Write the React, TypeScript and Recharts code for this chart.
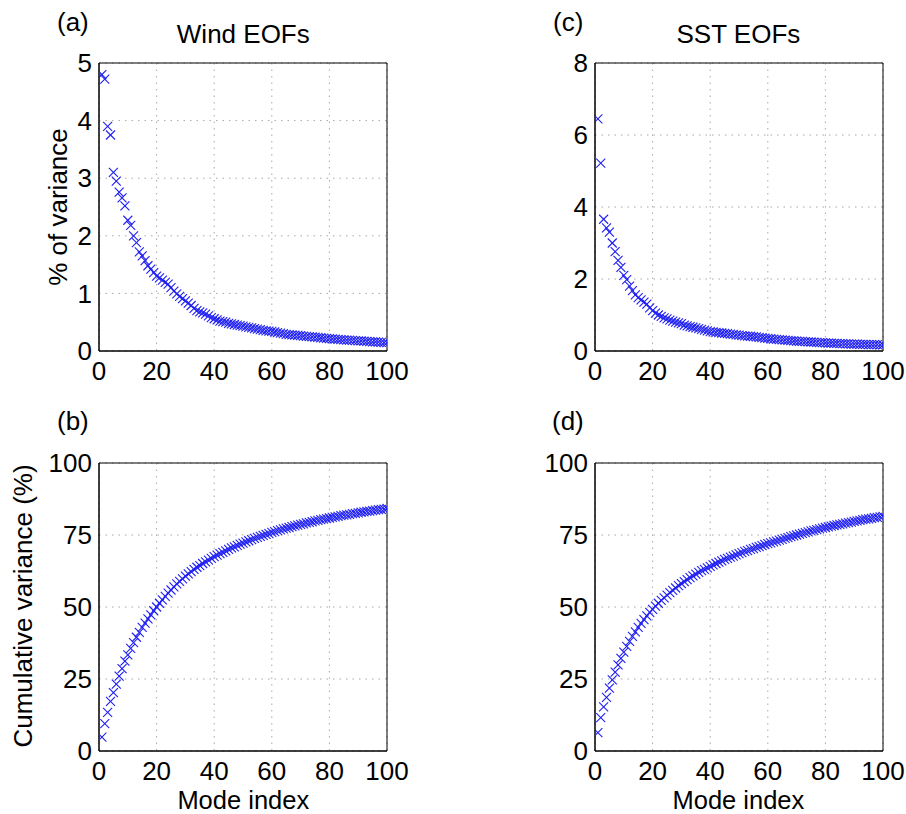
import React from "react";
import { ScatterChart, Scatter, XAxis, YAxis, CartesianGrid, ReferenceArea } from "recharts";

// mode index ticks shared by all panels
const modeTicks = [0, 20, 40, 60, 80, 100];
const windPctTicks = [0, 1, 2, 3, 4, 5];
const sstPctTicks = [0, 2, 4, 6, 8];
const cumTicks = [0, 25, 50, 75, 100];

// (a) wind EOFs, % of variance per mode (modes 1..100)
const windPct = [
  4.8, 4.72, 3.9, 3.75, 3.1, 2.95, 2.76, 2.66, 2.52, 2.27,
  2.18, 2.0, 1.88, 1.72, 1.65, 1.57, 1.48, 1.42, 1.36, 1.3,
  1.27, 1.23, 1.19, 1.16, 1.1, 1.04, 0.99, 0.95, 0.91, 0.87,
  0.83, 0.79, 0.74, 0.7, 0.68, 0.66, 0.64, 0.61, 0.58, 0.56,
  0.54, 0.52, 0.51, 0.5, 0.48, 0.47, 0.46, 0.45, 0.44, 0.43,
  0.42, 0.41, 0.4, 0.39, 0.38, 0.37, 0.36, 0.35, 0.345, 0.34,
  0.33, 0.32, 0.31, 0.3, 0.29, 0.285, 0.28, 0.275, 0.27, 0.265,
  0.26, 0.255, 0.25, 0.245, 0.24, 0.235, 0.23, 0.225, 0.22, 0.215,
  0.21, 0.205, 0.2, 0.197, 0.194, 0.19, 0.187, 0.184, 0.18, 0.177,
  0.174, 0.17, 0.167, 0.164, 0.16, 0.157, 0.154, 0.15, 0.147, 0.144,
];

// (b) wind EOFs, cumulative variance
const windCum = [
  4.8, 9.5, 13.4, 17.2, 20.3, 23.2, 26.0, 28.6, 31.2, 33.4,
  35.6, 37.6, 39.5, 41.2, 42.9, 44.4, 45.9, 47.3, 48.7, 50.0,
  51.3, 52.5, 53.7, 54.8, 55.9, 57.0, 58.0, 58.9, 59.8, 60.7,
  61.5, 62.3, 63.1, 63.8, 64.4, 65.1, 65.7, 66.3, 66.9, 67.5,
  68.0, 68.5, 69.0, 69.5, 70.0, 70.5, 70.9, 71.4, 71.8, 72.2,
  72.6, 73.0, 73.4, 73.8, 74.2, 74.5, 74.9, 75.2, 75.5, 75.9,
  76.2, 76.5, 76.8, 77.1, 77.4, 77.6, 77.9, 78.2, 78.4, 78.7,
  78.9, 79.2, 79.4, 79.6, 79.9, 80.1, 80.3, 80.5, 80.7, 80.9,
  81.1, 81.3, 81.5, 81.7, 81.9, 82.0, 82.2, 82.4, 82.5, 82.7,
  82.9, 83.0, 83.2, 83.3, 83.5, 83.6, 83.8, 83.9, 84.0, 84.2,
];

// (c) SST EOFs, % of variance per mode
const sstPct = [
  6.45, 5.22, 3.66, 3.42, 3.3, 3.0, 2.76, 2.52, 2.32, 2.1,
  1.98, 1.8, 1.68, 1.56, 1.48, 1.42, 1.36, 1.3, 1.2, 1.12,
  1.05, 1.0, 0.96, 0.92, 0.89, 0.86, 0.83, 0.8, 0.78, 0.76,
  0.72, 0.7, 0.68, 0.66, 0.64, 0.62, 0.6, 0.58, 0.56, 0.54,
  0.53, 0.52, 0.51, 0.5, 0.49, 0.48, 0.47, 0.46, 0.45, 0.44,
  0.43, 0.42, 0.415, 0.41, 0.4, 0.39, 0.38, 0.37, 0.36, 0.35,
  0.34, 0.33, 0.32, 0.315, 0.31, 0.3, 0.295, 0.29, 0.28, 0.275,
  0.27, 0.265, 0.26, 0.255, 0.25, 0.245, 0.24, 0.235, 0.23, 0.225,
  0.22, 0.217, 0.214, 0.21, 0.207, 0.204, 0.2, 0.197, 0.194, 0.19,
  0.188, 0.186, 0.184, 0.182, 0.18, 0.178, 0.176, 0.174, 0.172, 0.17,
];

// (d) SST EOFs, cumulative variance
const sstCum = [
  6.4, 11.6, 15.3, 18.6, 21.8, 24.7, 27.4, 29.9, 32.2, 34.3,
  36.3, 38.1, 39.8, 41.4, 42.9, 44.3, 45.6, 46.9, 48.1, 49.2,
  50.3, 51.3, 52.3, 53.2, 54.1, 55.0, 55.8, 56.6, 57.4, 58.1,
  58.8, 59.5, 60.2, 60.8, 61.4, 62.0, 62.6, 63.1, 63.6, 64.1,
  64.6, 65.1, 65.6, 66.0, 66.5, 66.9, 67.3, 67.7, 68.1, 68.5,
  68.9, 69.3, 69.6, 70.0, 70.3, 70.7, 71.0, 71.3, 71.7, 72.0,
  72.3, 72.6, 72.9, 73.2, 73.5, 73.8, 74.1, 74.4, 74.7, 75.0,
  75.3, 75.6, 75.8, 76.1, 76.4, 76.6, 76.9, 77.1, 77.4, 77.6,
  77.8, 78.1, 78.3, 78.5, 78.7, 78.9, 79.1, 79.3, 79.5, 79.7,
  79.9, 80.1, 80.3, 80.5, 80.6, 80.8, 81.0, 81.1, 81.3, 81.5,
];

const FONT = '"Liberation Sans", Arial, Helvetica, sans-serif';
const FS = 26;
const MARK = "#1f1ff2";

const toRows = (vals: number[]) => vals.map((v, i) => ({ mode: i + 1, value: v }));

const Cross = (props: any) => {
  const { cx, cy } = props;
  if (cx == null || cy == null) return null;
  const s = 4.5;
  return (
    <g>
      <line x1={cx - s} y1={cy - s} x2={cx + s} y2={cy + s} stroke={MARK} strokeWidth={1.1} />
      <line x1={cx - s} y1={cy + s} x2={cx + s} y2={cy - s} stroke={MARK} strokeWidth={1.1} />
    </g>
  );
};

interface PanelProps {
  px: number;
  py: number;
  values: number[];
  yMax: number;
  yTicks: number[];
}

const PW = 288;
const PH = 288;

// px/py = top-left corner of the plot box, in page pixels
const Panel: React.FC<PanelProps> = ({ px, py, values, yMax, yTicks }) => {
  const left = px - 80;
  const top = py - 15;
  return (
    <div style={{ position: "absolute", left, top }}>
      <ScatterChart
        width={PW + 80 + 22}
        height={PH + 15 + 50}
        margin={{ top: 15, right: 22, bottom: 10, left: 10 }}
      >
        <CartesianGrid stroke="#a8a8a8" strokeDasharray="1.5 5" />
        <XAxis
          type="number"
          dataKey="mode"
          domain={[0, 100]}
          ticks={modeTicks}
          height={40}
          tickLine={false}
          tickSize={0}
          tickMargin={11}
          axisLine={{ stroke: "#000" }}
          tick={{ fill: "#000", fontSize: FS, fontFamily: FONT }}
          allowDataOverflow
        />
        <YAxis
          type="number"
          dataKey="value"
          domain={[0, yMax]}
          ticks={yTicks}
          width={70}
          tickLine={false}
          tickSize={0}
          tickMargin={7}
          axisLine={{ stroke: "#000" }}
          tick={{ fill: "#000", fontSize: FS, fontFamily: FONT }}
          allowDataOverflow
        />
        <ReferenceArea x1={0} x2={100} y1={0} y2={yMax} fill="none" stroke="#000" strokeWidth={1} />
        <Scatter data={toRows(values)} shape={<Cross />} isAnimationActive={false} />
      </ScatterChart>
    </div>
  );
};

export default function App() {
  const txt = { fontFamily: FONT, fontSize: FS, fill: "#000" } as const;
  return (
    <div style={{ position: "relative", width: 906, height: 814, background: "#fff", overflow: "hidden" }}>
      <style>{"body{margin:0}"}</style>
      <Panel px={99.3} py={63} values={windPct} yMax={5} yTicks={windPctTicks} />
      <Panel px={99.3} py={463} values={windCum} yMax={100} yTicks={cumTicks} />
      <Panel px={594.7} py={63} values={sstPct} yMax={8} yTicks={sstPctTicks} />
      <Panel px={594.7} py={463} values={sstCum} yMax={100} yTicks={cumTicks} />
      <svg
        width={906}
        height={814}
        style={{ position: "absolute", left: 0, top: 0, pointerEvents: "none" }}
      >
        <text x={57} y={31} {...txt}>(a)</text>
        <text x={57} y={429.5} {...txt}>(b)</text>
        <text x={553} y={31} {...txt}>(c)</text>
        <text x={552} y={429.5} {...txt}>(d)</text>
        <text x={243.3} y={43} textAnchor="middle" {...txt}>Wind EOFs</text>
        <text x={738.4} y={43} textAnchor="middle" {...txt}>SST EOFs</text>
        <text x={67} y={207} textAnchor="middle" transform="rotate(-90 67 207)" {...txt}>% of variance</text>
        <text x={32} y={606} textAnchor="middle" transform="rotate(-90 32 606)" {...txt}>Cumulative variance (%)</text>
        <text x={243.3} y={809} textAnchor="middle" {...txt} fontSize={25.5}>Mode index</text>
        <text x={738.4} y={809} textAnchor="middle" {...txt} fontSize={25.5}>Mode index</text>
      </svg>
    </div>
  );
}
